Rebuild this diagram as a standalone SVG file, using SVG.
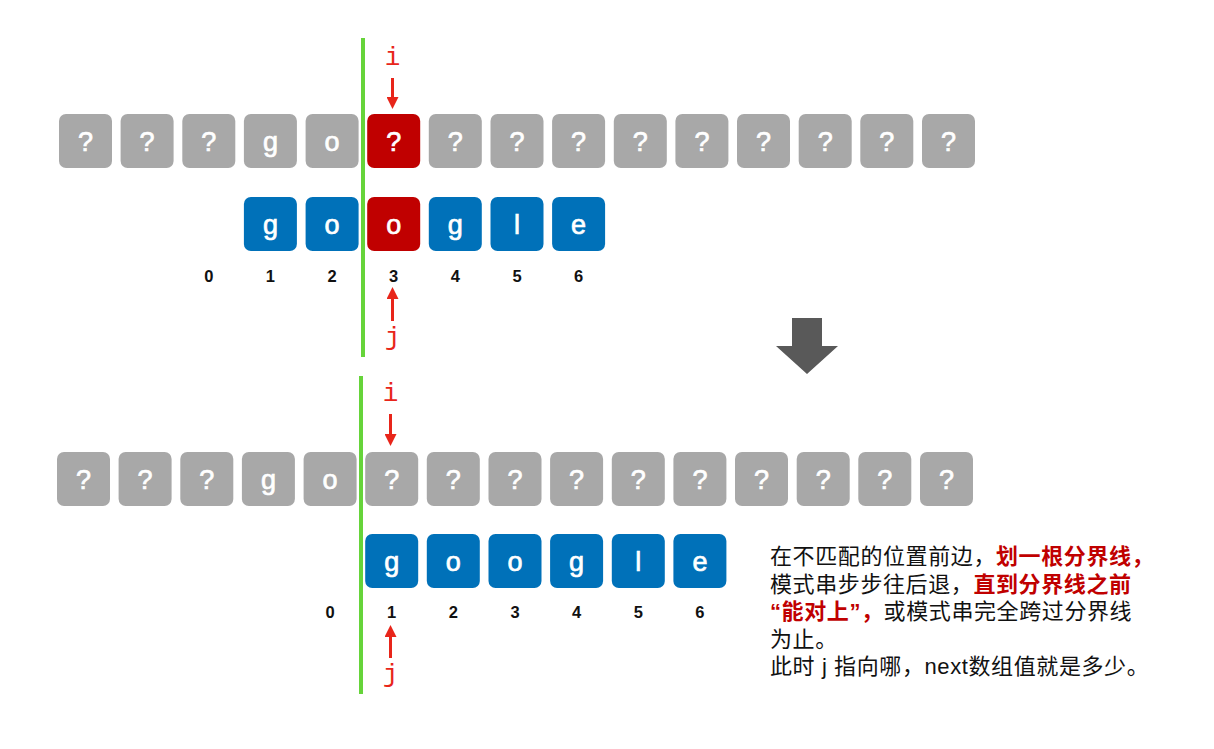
<svg xmlns="http://www.w3.org/2000/svg" width="1214" height="749" viewBox="0 0 1214 749">
<style>
.g{fill:#a8a8a8}
.r{fill:#c00000}
.b{fill:#0071b9}
.bt{font-family:"Liberation Sans",Arial,sans-serif;font-size:27px;fill:#fff;stroke:#fff;stroke-width:0.7px;text-anchor:middle}
.num{font-family:"Liberation Sans",Arial,sans-serif;font-size:16.5px;font-weight:bold;fill:#111;text-anchor:middle}
.lab{font-family:"Liberation Mono","Courier New",monospace;font-size:26px;fill:#e8251a;text-anchor:middle}
.ra{stroke:#e8251a;stroke-width:3;fill:none}
.gl{stroke:#66d43a;stroke-width:4}
.txt{font-family:"Liberation Sans","Noto Sans CJK SC",sans-serif;font-size:22px;letter-spacing:0.6px;fill:#111}
.red{fill:#c00000;font-weight:bold}
</style>
<defs>
<marker id="ah" markerWidth="5" markerHeight="4" refX="1" refY="2" orient="auto" markerUnits="strokeWidth">
<path d="M0,0 L4,2 L0,4 Z" fill="#e8251a"/>
</marker>
</defs>

<g id="top-text-row">
<rect class="g" x="59" y="114" width="53" height="54" rx="7"/><text class="bt" x="85.5" y="151">?</text>
<rect class="g" x="120.6" y="114" width="53" height="54" rx="7"/><text class="bt" x="147.1" y="151">?</text>
<rect class="g" x="182.3" y="114" width="53" height="54" rx="7"/><text class="bt" x="208.8" y="151">?</text>
<rect class="g" x="243.9" y="114" width="53" height="54" rx="7"/><text class="bt" x="270.4" y="151">g</text>
<rect class="g" x="305.6" y="114" width="53" height="54" rx="7"/><text class="bt" x="332.1" y="151">o</text>
<rect class="r" x="367.2" y="114" width="53" height="54" rx="7"/><text class="bt" x="393.7" y="151">?</text>
<rect class="g" x="428.8" y="114" width="53" height="54" rx="7"/><text class="bt" x="455.3" y="151">?</text>
<rect class="g" x="490.5" y="114" width="53" height="54" rx="7"/><text class="bt" x="517" y="151">?</text>
<rect class="g" x="552.1" y="114" width="53" height="54" rx="7"/><text class="bt" x="578.6" y="151">?</text>
<rect class="g" x="613.8" y="114" width="53" height="54" rx="7"/><text class="bt" x="640.3" y="151">?</text>
<rect class="g" x="675.4" y="114" width="53" height="54" rx="7"/><text class="bt" x="701.9" y="151">?</text>
<rect class="g" x="737" y="114" width="53" height="54" rx="7"/><text class="bt" x="763.5" y="151">?</text>
<rect class="g" x="798.7" y="114" width="53" height="54" rx="7"/><text class="bt" x="825.2" y="151">?</text>
<rect class="g" x="860.3" y="114" width="53" height="54" rx="7"/><text class="bt" x="886.8" y="151">?</text>
<rect class="g" x="922" y="114" width="53" height="54" rx="7"/><text class="bt" x="948.5" y="151">?</text>
</g>

<g id="top-pattern-row">
<rect class="b" x="243.9" y="197" width="53" height="54" rx="7"/><text class="bt" x="270.4" y="234">g</text>
<rect class="b" x="305.6" y="197" width="53" height="54" rx="7"/><text class="bt" x="332.1" y="234">o</text>
<rect class="r" x="367.2" y="197" width="53" height="54" rx="7"/><text class="bt" x="393.7" y="234">o</text>
<rect class="b" x="428.8" y="197" width="53" height="54" rx="7"/><text class="bt" x="455.3" y="234">g</text>
<rect class="b" x="490.5" y="197" width="53" height="54" rx="7"/><text class="bt" x="517" y="234">l</text>
<rect class="b" x="552.1" y="197" width="53" height="54" rx="7"/><text class="bt" x="578.6" y="234">e</text>
</g>

<g id="top-indices">
<text class="num" x="208.8" y="282">0</text>
<text class="num" x="270.4" y="282">1</text>
<text class="num" x="332.1" y="282">2</text>
<text class="num" x="393.7" y="282">3</text>
<text class="num" x="455.3" y="282">4</text>
<text class="num" x="517" y="282">5</text>
<text class="num" x="578.6" y="282">6</text>
</g>

<g id="top-divider"><line class="gl" x1="363" y1="38" x2="363" y2="357"/></g>

<g id="top-labels">
<text class="lab" x="392.5" y="65">i</text>
<text class="lab" x="392.5" y="345">j</text>
</g>

<g id="bottom-text-row">
<rect class="g" x="57" y="452" width="53" height="54" rx="7"/><text class="bt" x="83.5" y="489">?</text>
<rect class="g" x="118.6" y="452" width="53" height="54" rx="7"/><text class="bt" x="145.1" y="489">?</text>
<rect class="g" x="180.3" y="452" width="53" height="54" rx="7"/><text class="bt" x="206.8" y="489">?</text>
<rect class="g" x="241.9" y="452" width="53" height="54" rx="7"/><text class="bt" x="268.4" y="489">g</text>
<rect class="g" x="303.6" y="452" width="53" height="54" rx="7"/><text class="bt" x="330.1" y="489">o</text>
<rect class="g" x="365.2" y="452" width="53" height="54" rx="7"/><text class="bt" x="391.7" y="489">?</text>
<rect class="g" x="426.8" y="452" width="53" height="54" rx="7"/><text class="bt" x="453.3" y="489">?</text>
<rect class="g" x="488.5" y="452" width="53" height="54" rx="7"/><text class="bt" x="515" y="489">?</text>
<rect class="g" x="550.1" y="452" width="53" height="54" rx="7"/><text class="bt" x="576.6" y="489">?</text>
<rect class="g" x="611.8" y="452" width="53" height="54" rx="7"/><text class="bt" x="638.3" y="489">?</text>
<rect class="g" x="673.4" y="452" width="53" height="54" rx="7"/><text class="bt" x="699.9" y="489">?</text>
<rect class="g" x="735" y="452" width="53" height="54" rx="7"/><text class="bt" x="761.5" y="489">?</text>
<rect class="g" x="796.7" y="452" width="53" height="54" rx="7"/><text class="bt" x="823.2" y="489">?</text>
<rect class="g" x="858.3" y="452" width="53" height="54" rx="7"/><text class="bt" x="884.8" y="489">?</text>
<rect class="g" x="920" y="452" width="53" height="54" rx="7"/><text class="bt" x="946.5" y="489">?</text>
</g>

<g id="bottom-pattern-row">
<rect class="b" x="365.2" y="534" width="53" height="54" rx="7"/><text class="bt" x="391.7" y="571">g</text>
<rect class="b" x="426.8" y="534" width="53" height="54" rx="7"/><text class="bt" x="453.3" y="571">o</text>
<rect class="b" x="488.5" y="534" width="53" height="54" rx="7"/><text class="bt" x="515" y="571">o</text>
<rect class="b" x="550.1" y="534" width="53" height="54" rx="7"/><text class="bt" x="576.6" y="571">g</text>
<rect class="b" x="611.8" y="534" width="53" height="54" rx="7"/><text class="bt" x="638.3" y="571">l</text>
<rect class="b" x="673.4" y="534" width="53" height="54" rx="7"/><text class="bt" x="699.9" y="571">e</text>
</g>

<g id="bottom-indices">
<text class="num" x="330.1" y="618">0</text>
<text class="num" x="391.7" y="618">1</text>
<text class="num" x="453.3" y="618">2</text>
<text class="num" x="515" y="618">3</text>
<text class="num" x="576.6" y="618">4</text>
<text class="num" x="638.3" y="618">5</text>
<text class="num" x="699.9" y="618">6</text>
</g>

<g id="bottom-divider"><line class="gl" x1="361" y1="376" x2="361" y2="694"/></g>

<g id="bottom-labels">
<text class="lab" x="390.5" y="401">i</text>
<text class="lab" x="390.5" y="682">j</text>
</g>

<g id="connectors">
<line class="ra" x1="392.5" y1="78" x2="392.5" y2="100" marker-end="url(#ah)"/>
<line class="ra" x1="392.5" y1="321" x2="392.5" y2="296" marker-end="url(#ah)"/>
<line class="ra" x1="390.5" y1="414" x2="390.5" y2="437" marker-end="url(#ah)"/>
<line class="ra" x1="390.5" y1="658" x2="390.5" y2="634" marker-end="url(#ah)"/>
</g>

<g id="transition-arrow">
<polygon points="792,318 822,318 822,346 838,346 807,374 776,346 792,346" fill="#595959"/>
</g>

<g id="note">
<text class="txt" x="770" y="564">在不匹配的位置前边，<tspan class="red">划一根分界线，</tspan></text>
<text class="txt" x="770" y="592">模式串步步往后退，<tspan class="red">直到分界线之前</tspan></text>
<text class="txt" x="770" y="619"><tspan class="red">“能对上”，</tspan>或模式串完全跨过分界线</text>
<text class="txt" x="770" y="647">为止。</text>
<text class="txt" x="770" y="674">此时 j 指向哪，next数组值就是多少。</text>
</g>
</svg>
